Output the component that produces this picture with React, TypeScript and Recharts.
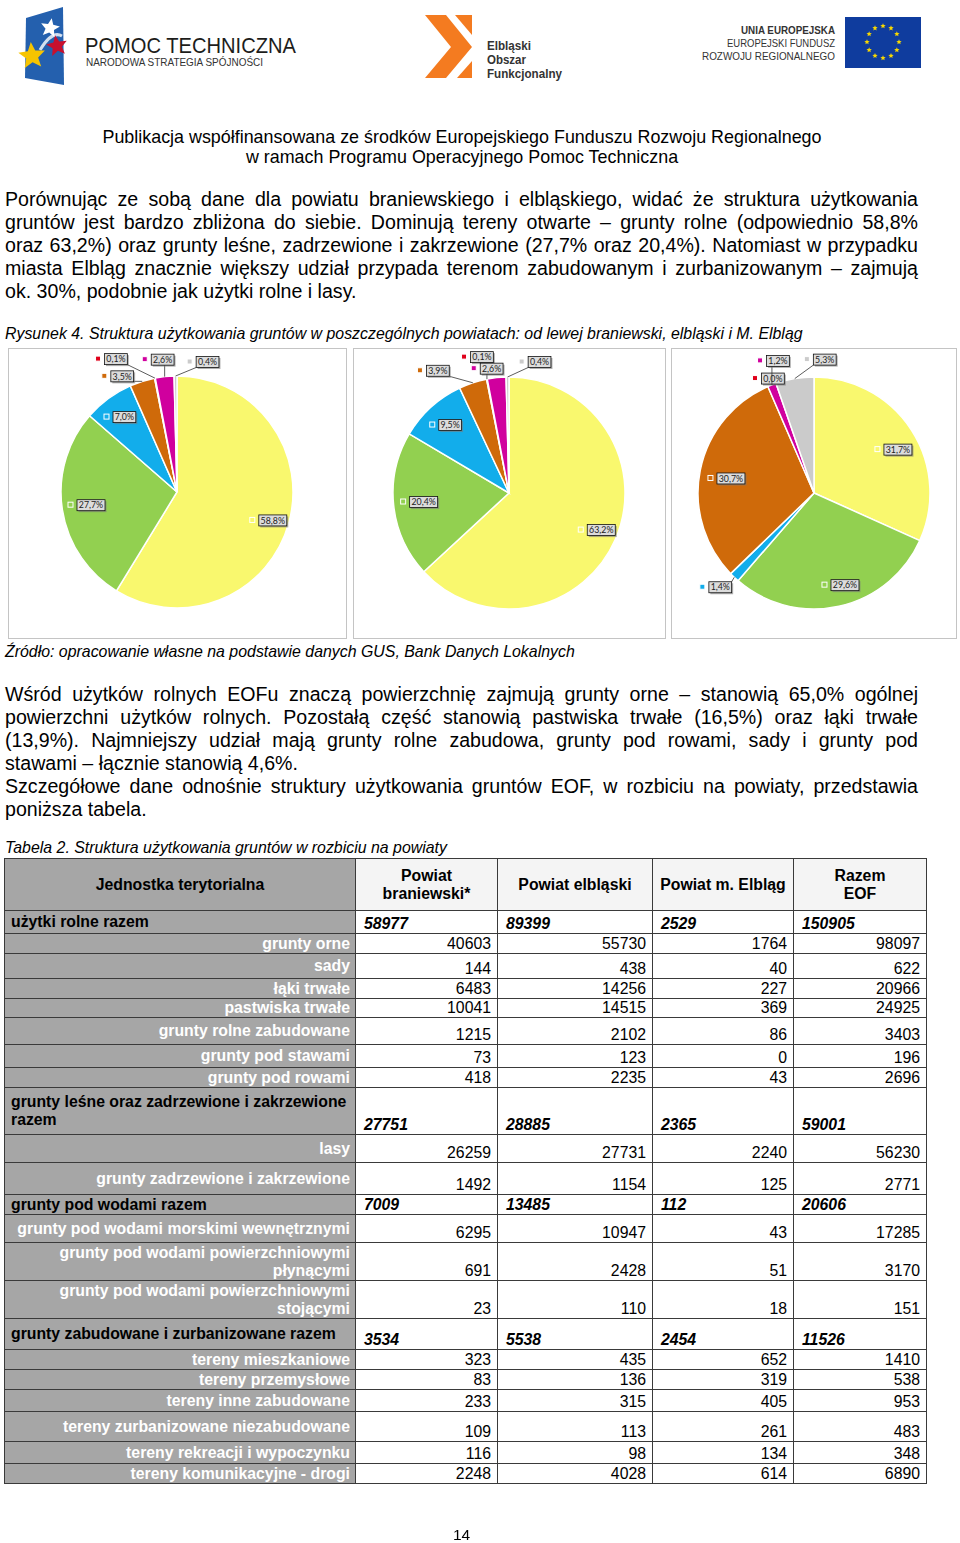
import React from "react";
import { PieChart, Pie, Cell } from "recharts";

// land-use categories (same order / colour in each pie)
const categories = [
  "użytki rolne",
  "grunty leśne oraz zadrzewione i zakrzewione",
  "grunty pod wodami",
  "grunty zabudowane i zurbanizowane",
  "użytki ekologiczne",
  "nieużytki",
  "tereny różne",
];
const braniewskiShares = [58.8, 27.7, 7.0, 3.5, 0.1, 2.6, 0.4];
const elblaskiShares = [63.2, 20.4, 9.5, 3.9, 0.1, 2.6, 0.4];
const elblagShares = [31.7, 29.6, 1.4, 30.7, 0.0, 1.2, 5.3];
const sliceColors = ["#F9F86E", "#92D050", "#12ADEB", "#CF6A0A", "#E0001A", "#D0009E", "#CBCBCB"];

// table 2
const tableHead = ["Jednostka terytorialna", "Powiat\nbraniewski*", "Powiat elbląski", "Powiat m. Elbląg", "Razem\nEOF"];
const rowLabels = [
  "użytki rolne razem",
  "grunty orne",
  "sady",
  "łąki trwałe",
  "pastwiska trwałe",
  "grunty rolne zabudowane",
  "grunty pod stawami",
  "grunty pod rowami",
  "grunty leśne oraz zadrzewione i zakrzewione\nrazem",
  "lasy",
  "grunty zadrzewione i zakrzewione",
  "grunty pod wodami razem",
  "grunty pod wodami morskimi wewnętrznymi",
  "grunty pod wodami powierzchniowymi\npłynącymi",
  "grunty pod wodami powierzchniowymi\nstojącymi",
  "grunty zabudowane i zurbanizowane razem",
  "tereny mieszkaniowe",
  "tereny przemysłowe",
  "tereny inne zabudowane",
  "tereny zurbanizowane niezabudowane",
  "tereny rekreacji i wypoczynku",
  "tereny komunikacyjne - drogi",
];
const totalRows = [0, 8, 11, 15];
const braniewski = [58977, 40603, 144, 6483, 10041, 1215, 73, 418, 27751, 26259, 1492, 7009, 6295, 691, 23, 3534, 323, 83, 233, 109, 116, 2248];
const elblaski = [89399, 55730, 438, 14256, 14515, 2102, 123, 2235, 28885, 27731, 1154, 13485, 10947, 2428, 110, 5538, 435, 136, 315, 113, 98, 4028];
const elblag = [2529, 1764, 40, 227, 369, 86, 0, 43, 2365, 2240, 125, 112, 43, 51, 18, 2454, 652, 319, 405, 261, 134, 614];
const razemEOF = [150905, 98097, 622, 20966, 24925, 3403, 196, 2696, 59001, 56230, 2771, 20606, 17285, 3170, 151, 11526, 1410, 538, 953, 483, 348, 6890];

const rowHeights = [23, 20, 25, 20, 19, 27, 23, 20, 47, 28, 32, 20, 28, 38, 38, 31, 20, 20, 22, 30, 22, 20];
const colWidths = [351, 142, 155, 141, 133];

// label placement per pie: k = fraction of radius, nx/ny = nudge
type LabelPos = { k: number; nx: number; ny: number };
const layoutBraniewski: LabelPos[] = [
  { k: 0.84, nx: 2, ny: 2 },
  { k: 0.75, nx: 0, ny: 0 },
  { k: 0.78, nx: 1, ny: -2 },
  { k: 1, nx: -20, ny: -5 },
  { k: 1, nx: -39, ny: -19 },
  { k: 1, nx: -2, ny: -17 },
  { k: 1, nx: 32, ny: -14 },
];
const layoutElblaski: LabelPos[] = [
  { k: 0.84, nx: 3, ny: -2 },
  { k: 0.74, nx: 0, ny: 0 },
  { k: 0.78, nx: 2, ny: -1 },
  { k: 1, nx: -35, ny: -12 },
  { k: 1, nx: -5, ny: -22 },
  { k: 1, nx: -5, ny: -9 },
  { k: 1, nx: 32, ny: -15 },
];
const layoutElblag: LabelPos[] = [
  { k: 0.8, nx: 6, ny: 7 },
  { k: 0.84, nx: 10, ny: -3 },
  { k: 1, nx: -14, ny: 10 },
  { k: 0.73, nx: 0, ny: 2 },
  { k: 1, nx: 5, ny: -8 },
  { k: 1, nx: 6, ny: -24 },
  { k: 1, nx: 30, ny: -19 },
];

const RAD = Math.PI / 180;
const FONT = "'Liberation Sans', Arial, sans-serif";

function makeLabel(layout: LabelPos[]) {
  return (props: any) => {
    const { cx, cy, midAngle, outerRadius, index, value } = props;
    const pos = layout[index];
    const cos = Math.cos(-midAngle * RAD);
    const sin = Math.sin(-midAngle * RAD);
    const bx = cx + outerRadius * pos.k * cos + pos.nx;
    const by = cy + outerRadius * pos.k * sin + pos.ny;
    const text = Number(value).toFixed(1).replace(".", ",") + "%";
    const w = text.length * 5.2 + 2;
    const h = 11;
    const ex = cx + outerRadius * cos;
    const ey = cy + outerRadius * sin;
    const lx = Math.min(Math.max(ex, bx - w / 2), bx + w / 2);
    const ly = Math.min(Math.max(ey, by - h / 2), by + h / 2);
    const showLine = pos.k >= 1 && Math.hypot(ex - lx, ey - ly) > 4;
    return (
      <g>
        {showLine && <line x1={ex} y1={ey} x2={lx} y2={ly} stroke="#333" strokeWidth={0.8} />}
        <rect x={bx - w / 2 - 9} y={by - 3} width={5} height={5} fill={sliceColors[index]} stroke="#fff" strokeWidth={1} />
        <rect x={bx - w / 2 + 1.5} y={by - h / 2 + 1.5} width={w} height={h} fill="#7a7a7a" opacity={0.6} />
        <rect x={bx - w / 2} y={by - h / 2} width={w} height={h} fill="#DCDCDC" stroke="#111" strokeWidth={0.8} />
        <text x={bx} y={by + 3.2} textAnchor="middle" fontSize={8.8} fontFamily="Lato, sans-serif" fill="#222">
          {text}
        </text>
      </g>
    );
  };
}

function PieBox({ shares, layout, left, width, cx, cy }: { shares: number[]; layout: LabelPos[]; left: number; width: number; cx: number; cy: number }) {
  const data = categories.map((name, i) => ({ name, value: shares[i] }));
  return (
    <div style={{ position: "absolute", left, top: 348, width, height: 291, border: "1.5px solid #C4C4C4", boxSizing: "border-box" }}>
      <div style={{ position: "absolute", left: -1.5, top: -1.5 }}>
        <PieChart width={width} height={291} margin={{ top: 0, right: 0, bottom: 0, left: 0 }}>
          <Pie
            data={data}
            dataKey="value"
            nameKey="name"
            cx={cx}
            cy={cy}
            outerRadius={116}
            startAngle={90}
            endAngle={-270}
            stroke="#fff"
            strokeWidth={1.5}
            label={makeLabel(layout)}
            labelLine={false}
            isAnimationActive={false}
          >
            {data.map((d, i) => (
              <Cell key={d.name} fill={sliceColors[i]} />
            ))}
          </Pie>
        </PieChart>
      </div>
    </div>
  );
}

function JustLines({ lines, lastIdx, top }: { lines: string[]; lastIdx: number[]; top: number }) {
  return (
    <div style={{ position: "absolute", left: 5, top, width: 913, fontFamily: FONT, fontSize: 19.6, lineHeight: "23px" }}>
      {lines.map((t, i) => (
        <div key={i} style={{ textAlign: "justify", textAlignLast: lastIdx.includes(i) ? "left" : "justify" } as any}>
          {t}
        </div>
      ))}
    </div>
  );
}

function star(cx: number, cy: number, r: number, rot = -90) {
  const pts: string[] = [];
  for (let i = 0; i < 10; i++) {
    const rr = i % 2 === 0 ? r : r * 0.45;
    const a = (rot + i * 36) * RAD;
    pts.push(`${cx + rr * Math.cos(a)},${cy + rr * Math.sin(a)}`);
  }
  return pts.join(" ");
}

function Logos() {
  const euStars = Array.from({ length: 12 }, (_, i) => {
    const a = i * 30 * RAD;
    return star(883 + 16 * Math.cos(a), 42 + 16 * Math.sin(a), 2.8);
  });
  const narrow = "'Liberation Sans', Arial, sans-serif";
  return (
    <svg style={{ position: "absolute", left: 0, top: 0 }} width={960} height={100}>
      {/* Pomoc Techniczna mark */}
      <polygon points="26,18 63,7 64,85 25,78" fill="#2460AE" />
      <path d="M40,50 Q52,30 62,36" stroke="#fff" strokeWidth={3} fill="none" opacity={0.8} />
      <polygon points={star(50, 28, 10, -80)} fill="#fff" />
      <polygon points={star(57, 46, 11, -100)} fill="#C8102E" />
      <polygon points={star(32, 56, 14, -95)} fill="#F6C400" />
      <text x={85} y={53} fontFamily={narrow} fontSize={22} fill="#1d1d1b" textLength={211} lengthAdjust="spacingAndGlyphs">
        POMOC TECHNICZNA
      </text>
      <text x={86} y={66} fontFamily={narrow} fontSize={10.5} fill="#333" textLength={177} lengthAdjust="spacingAndGlyphs">
        NARODOWA STRATEGIA SPÓJNOŚCI
      </text>
      {/* EOF mark */}
      <polygon points="425,15 446,15 472,47 446,78 425,78 451,47" fill="#F47B20" />
      <polygon points="455,15 472,15 472,35" fill="#F47B20" />
      <polygon points="457,78 472,78 472,61" fill="#F47B20" />
      <g fontFamily={narrow} fontWeight="bold" fontSize={12.5} fill="#333">
        <text x={487} y={50} textLength={44} lengthAdjust="spacingAndGlyphs">
          Elbląski
        </text>
        <text x={487} y={64} textLength={39} lengthAdjust="spacingAndGlyphs">
          Obszar
        </text>
        <text x={487} y={78} textLength={75} lengthAdjust="spacingAndGlyphs">
          Funkcjonalny
        </text>
      </g>
      {/* EU */}
      <g fontFamily={narrow} fontSize={11} fill="#333" textAnchor="end">
        <text x={835} y={34} fontWeight="bold" textLength={94} lengthAdjust="spacingAndGlyphs">
          UNIA EUROPEJSKA
        </text>
        <text x={835} y={47} textLength={108} lengthAdjust="spacingAndGlyphs">
          EUROPEJSKI FUNDUSZ
        </text>
        <text x={835} y={60} textLength={133} lengthAdjust="spacingAndGlyphs">
          ROZWOJU REGIONALNEGO
        </text>
      </g>
      <rect x={845} y={17} width={76} height={51} fill="#0F3C9E" />
      {euStars.map((p, i) => (
        <polygon key={i} points={p} fill="#F8D800" />
      ))}
    </svg>
  );
}

function Table2() {
  const border = "1.5px solid #3a3a3a";
  const cell: React.CSSProperties = { border, padding: "0 6px", fontFamily: FONT, fontSize: 15.8, lineHeight: "18px" };
  const cols = [braniewski, elblaski, elblag, razemEOF];
  return (
    <table style={{ position: "absolute", left: 4, top: 858, borderCollapse: "collapse", tableLayout: "fixed", width: 922 }}>
      <colgroup>
        {colWidths.map((w, i) => (
          <col key={i} style={{ width: w }} />
        ))}
      </colgroup>
      <tbody>
        <tr style={{ height: 52 }}>
          {tableHead.map((h, i) => (
            <td key={i} style={{ ...cell, background: i === 0 ? "#A6A6A6" : "#F4F4F4", fontWeight: "bold", textAlign: "center", whiteSpace: "pre-line" }}>
              {h}
            </td>
          ))}
        </tr>
        {rowLabels.map((lab, r) => {
          const total = totalRows.includes(r);
          return (
            <tr key={r} style={{ height: rowHeights[r] }}>
              <td
                style={{
                  ...cell,
                  background: "#A6A6A6",
                  fontWeight: "bold",
                  color: total ? "#000" : "#fff",
                  textAlign: total ? "left" : "right",
                  verticalAlign: "middle",
                  whiteSpace: "pre-line",
                  paddingLeft: total ? 6 : 4,
                  paddingRight: 5,
                }}
              >
                {lab}
              </td>
              {cols.map((c, j) => (
                <td
                  key={j}
                  style={{
                    ...cell,
                    background: "#fff",
                    verticalAlign: "bottom",
                    textAlign: total ? "left" : "right",
                    fontWeight: total ? "bold" : "normal",
                    fontStyle: total ? "italic" : "normal",
                    paddingLeft: total ? 8 : 6,
                  }}
                >
                  {c[r]}
                </td>
              ))}
            </tr>
          );
        })}
      </tbody>
    </table>
  );
}

export default function App() {
  const italic: React.CSSProperties = { position: "absolute", left: 5, fontFamily: FONT, fontStyle: "italic", fontSize: 15.9, lineHeight: "18px", whiteSpace: "nowrap" };
  return (
    <div style={{ position: "fixed", left: 0, top: 0, width: 960, height: 1543, background: "#fff" }}>
      <Logos />
      <div style={{ position: "absolute", left: 0, width: 924, top: 127, textAlign: "center", fontFamily: FONT, fontSize: 17.9, lineHeight: "20px" }}>
        Publikacja współfinansowana ze środków Europejskiego Funduszu Rozwoju Regionalnego
        <br />w ramach Programu Operacyjnego Pomoc Techniczna
      </div>
      <JustLines
        top={188}
        lastIdx={[4]}
        lines={[
          "Porównując ze sobą dane dla powiatu braniewskiego i elbląskiego, widać że struktura użytkowania",
          "gruntów jest bardzo zbliżona do siebie. Dominują tereny otwarte – grunty rolne (odpowiednio 58,8%",
          "oraz 63,2%) oraz grunty leśne, zadrzewione i zakrzewione (27,7% oraz 20,4%). Natomiast w przypadku",
          "miasta Elbląg znacznie większy udział przypada terenom zabudowanym i zurbanizowanym – zajmują",
          "ok. 30%, podobnie jak użytki rolne i lasy.",
        ]}
      />
      <div style={{ ...italic, top: 325 }}>
        Rysunek 4. Struktura użytkowania gruntów w poszczególnych powiatach: od lewej braniewski, elbląski i M. Elbląg
      </div>
      <PieBox shares={braniewskiShares} layout={layoutBraniewski} left={8} width={339} cx={169} cy={144} />
      <PieBox shares={elblaskiShares} layout={layoutElblaski} left={353} width={313} cx={156} cy={145} />
      <PieBox shares={elblagShares} layout={layoutElblag} left={671} width={286} cx={143} cy={145} />
      <div style={{ ...italic, top: 643 }}>Źródło: opracowanie własne na podstawie danych GUS, Bank Danych Lokalnych</div>
      <JustLines
        top={683}
        lastIdx={[3, 5]}
        lines={[
          "Wśród użytków rolnych EOFu znaczą powierzchnię zajmują grunty orne – stanowią 65,0% ogólnej",
          "powierzchni użytków rolnych. Pozostałą część stanowią pastwiska trwałe (16,5%) oraz łąki trwałe",
          "(13,9%). Najmniejszy udział mają grunty rolne zabudowa, grunty pod rowami, sady i grunty pod",
          "stawami – łącznie stanowią 4,6%.",
          "Szczegółowe dane odnośnie struktury użytkowania gruntów EOF, w rozbiciu na powiaty, przedstawia",
          "poniższa tabela.",
        ]}
      />
      <div style={{ ...italic, top: 839 }}>Tabela 2. Struktura użytkowania gruntów w rozbiciu na powiaty</div>
      <Table2 />
      <div style={{ position: "absolute", left: 453, top: 1526, fontFamily: FONT, fontSize: 15.5, lineHeight: "18px" }}>14</div>
    </div>
  );
}
